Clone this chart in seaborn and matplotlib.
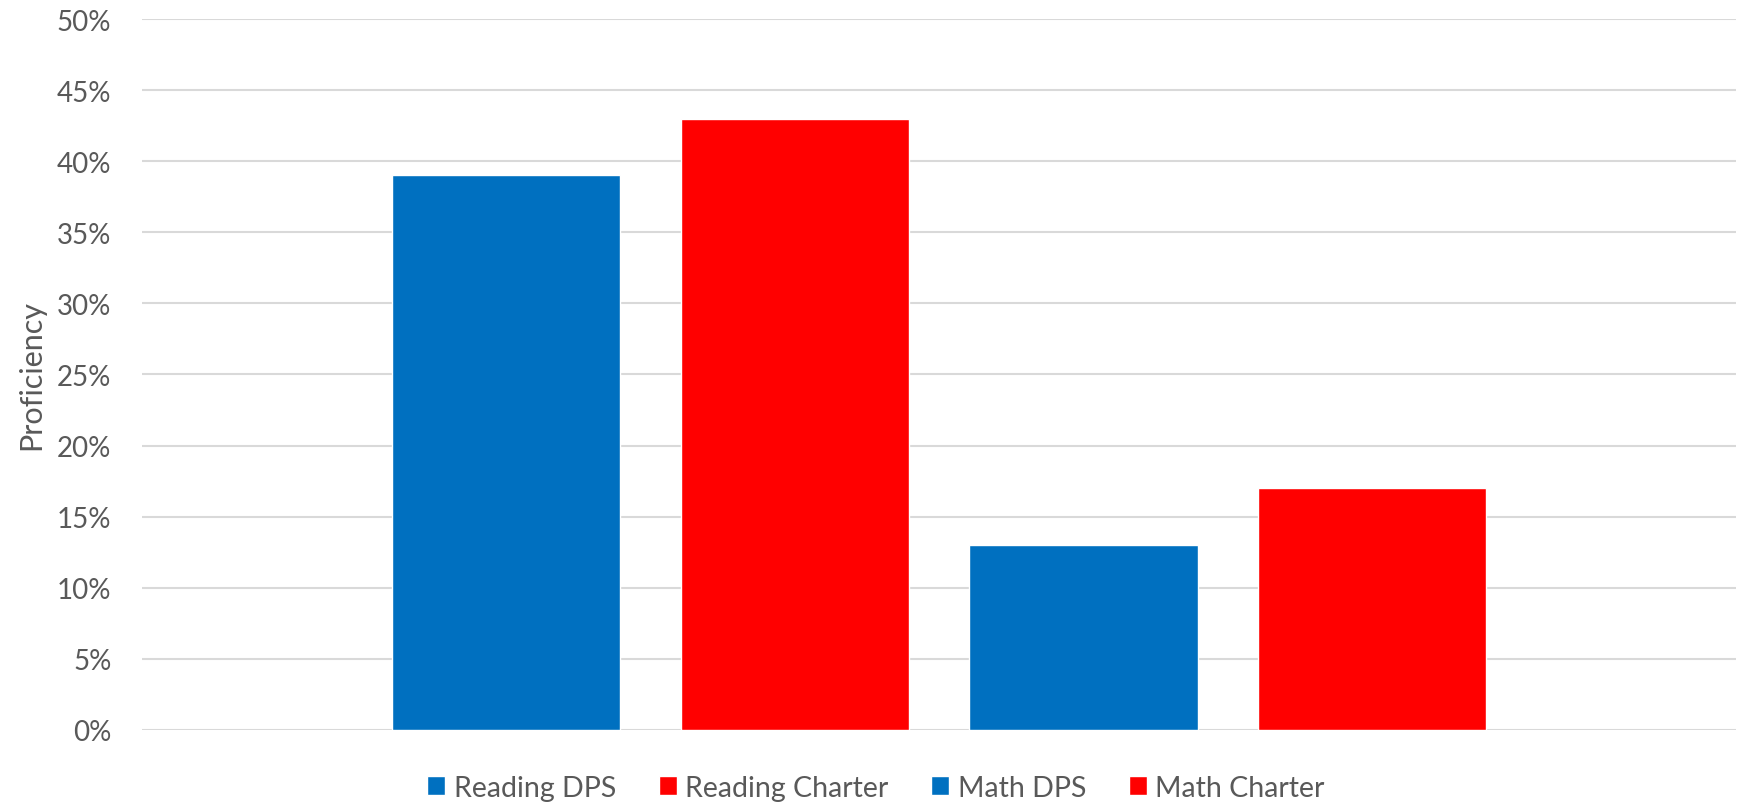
import matplotlib
matplotlib.use("Agg")
import matplotlib.pyplot as plt
import seaborn as sns
import pandas as pd
from matplotlib.ticker import PercentFormatter

series = ["Reading DPS", "Reading Charter", "Math DPS", "Math Charter"]
proficiency = [0.39, 0.43, 0.13, 0.17]
colors = ["#0070C0", "#FF0000", "#0070C0", "#FF0000"]
y_ticks = [0, 0.05, 0.10, 0.15, 0.20, 0.25, 0.30, 0.35, 0.40, 0.45, 0.50]

df = pd.DataFrame({"series": series, "proficiency": proficiency})

sns.set_style("white")
plt.rcParams["font.family"] = ["Lato", "DejaVu Sans"]

fig = plt.figure(figsize=(17.52, 8.04), dpi=100)
ax = fig.add_axes([0.081, 0.091, 0.910, 0.884])

sns.barplot(data=df, x="series", y="proficiency", hue="series",
            palette=colors, width=0.79, saturation=1, legend=True, ax=ax)

ax.set_ylim(0, 0.5)
ax.set_xlim(-1.26, 4.26)
ax.set_yticks(y_ticks)
ax.yaxis.set_major_formatter(PercentFormatter(1.0, decimals=0))
ax.yaxis.grid(True, color="#D9D9D9", linewidth=1.5)
ax.set_axisbelow(True)
for s in ax.spines.values():
    s.set_visible(False)
ax.set_xticks([])
ax.set_xlabel("")
ax.set_ylabel("Proficiency", fontsize=22, color="#595959")
ax.yaxis.set_label_coords(-0.0696, 0.5)
ax.yaxis.label.set_va("center")
ax.tick_params(axis="y", length=0, pad=22, labelsize=20, labelcolor="#595959")

handles, labels = ax.get_legend_handles_labels()
ax.get_legend().remove()
fig.legend(handles, labels, ncol=4, loc="center", bbox_to_anchor=(0.5, 0.019),
           frameon=False, fontsize=20.5, labelcolor="#595959",
           handlelength=0.63, handleheight=0.63, handletextpad=0.3,
           columnspacing=1.5)

fig.savefig("out.png", dpi=100)
